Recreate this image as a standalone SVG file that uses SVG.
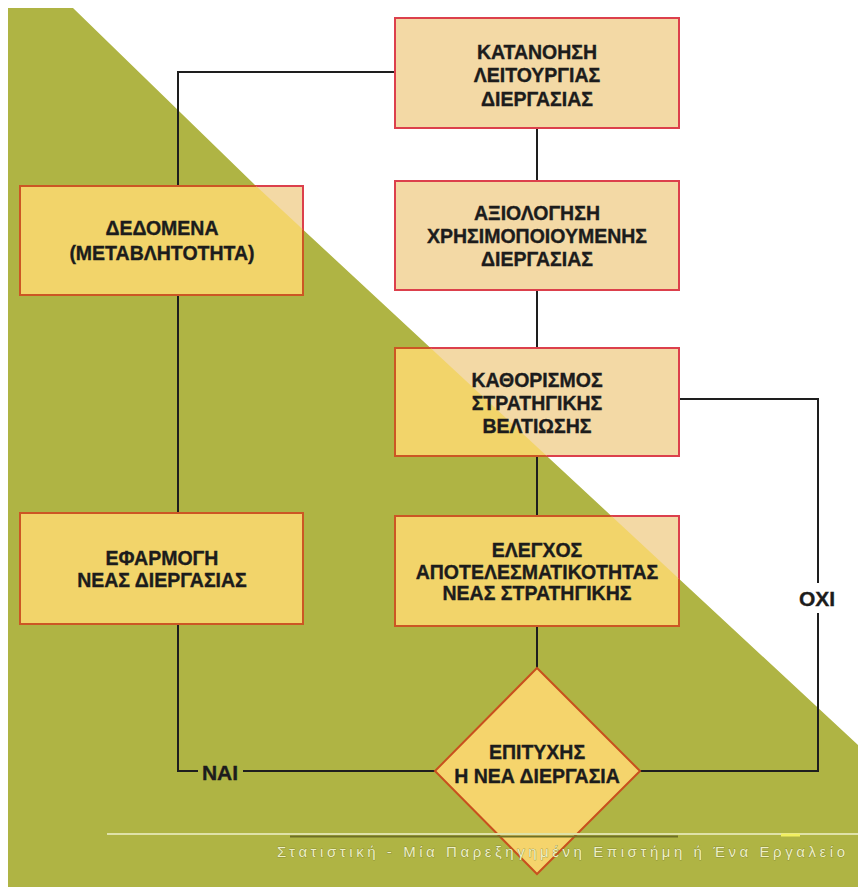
<svg xmlns="http://www.w3.org/2000/svg" width="858" height="887" viewBox="0 0 858 887">
<style>
.by{fill:#f2d46a;stroke:#cc5624;stroke-width:2}
.bw{fill:#f3d9a5;stroke:#dc404c;stroke-width:2}
.t{font-family:"Liberation Sans",Arial,sans-serif;font-weight:bold;font-size:19.5px;fill:#1c1c1c;stroke:#1c1c1c;stroke-width:0.35;text-anchor:middle}
.lb{font-family:"Liberation Sans",Arial,sans-serif;font-weight:bold;font-size:21px;fill:#1c1c1c;stroke:#1c1c1c;stroke-width:0.35;text-anchor:middle}
.c{fill:none;stroke:#1e1e1e;stroke-width:2}
.ft{font-family:"Liberation Sans",Arial,sans-serif;font-size:15px;fill:#eef0c4;stroke:#6a6c2a;stroke-width:0.5;paint-order:stroke}
</style>
<defs>
<clipPath id="wclip"><polygon points="73,0 73,8 255,185 858,745 858,0"/></clipPath>
</defs>
<rect x="0" y="0" width="858" height="887" fill="#ffffff"/>
<polygon points="8,8 73,8 255,185 858,745 858,887 8,887" fill="#afb444"/>
<g id="connectors">
<polyline class="c" points="395,72 178,72 178,186"/>
<line class="c" x1="178" y1="295" x2="178" y2="513"/>
<polyline class="c" points="178,624 178,771 198,771"/>
<line class="c" x1="243" y1="771" x2="435" y2="771"/>
<line class="c" x1="537" y1="128" x2="537" y2="181"/>
<line class="c" x1="537" y1="290" x2="537" y2="348"/>
<line class="c" x1="537" y1="456" x2="537" y2="516"/>
<line class="c" x1="537" y1="626" x2="537" y2="668"/>
<polyline class="c" points="679,399 818,399 818,583"/>
<polyline class="c" points="818,613 818,771 640,771"/>
<text class="lb" x="220" y="780">ΝΑΙ</text>
<text class="lb" x="817" y="606">ΟΧΙ</text>
</g>
<g id="n1">
<rect class="by" x="395" y="18" width="284" height="110"/>
<rect class="bw" x="395" y="18" width="284" height="110" clip-path="url(#wclip)"/>
<text class="t" x="537" y="59">ΚΑΤΑΝΟΗΣΗ</text>
<text class="t" x="537" y="82">ΛΕΙΤΟΥΡΓΙΑΣ</text>
<text class="t" x="537" y="106">ΔΙΕΡΓΑΣΙΑΣ</text>
</g>
<g id="n2">
<rect class="by" x="395" y="181" width="284" height="109"/>
<rect class="bw" x="395" y="181" width="284" height="109" clip-path="url(#wclip)"/>
<text class="t" x="537" y="220">ΑΞΙΟΛΟΓΗΣΗ</text>
<text class="t" x="537" y="243">ΧΡΗΣΙΜΟΠΟΙΟΥΜΕΝΗΣ</text>
<text class="t" x="537" y="266">ΔΙΕΡΓΑΣΙΑΣ</text>
</g>
<g id="n3">
<rect class="by" x="395" y="348" width="284" height="108"/>
<rect class="bw" x="395" y="348" width="284" height="108" clip-path="url(#wclip)"/>
<text class="t" x="537" y="387">ΚΑΘΟΡΙΣΜΟΣ</text>
<text class="t" x="537" y="410">ΣΤΡΑΤΗΓΙΚΗΣ</text>
<text class="t" x="537" y="433">ΒΕΛΤΙΩΣΗΣ</text>
</g>
<g id="n4">
<rect class="by" x="395" y="516" width="284" height="110"/>
<rect class="bw" x="395" y="516" width="284" height="110" clip-path="url(#wclip)"/>
<text class="t" x="537" y="557">ΕΛΕΓΧΟΣ</text>
<text class="t" x="537" y="579">ΑΠΟΤΕΛΕΣΜΑΤΙΚΟΤΗΤΑΣ</text>
<text class="t" x="537" y="600">ΝΕΑΣ ΣΤΡΑΤΗΓΙΚΗΣ</text>
</g>
<g id="n5">
<rect class="by" x="20" y="186" width="283" height="109"/>
<rect class="bw" x="20" y="186" width="283" height="109" clip-path="url(#wclip)"/>
<text class="t" x="162" y="235">ΔΕΔΟΜΕΝΑ</text>
<text class="t" x="162" y="260">(ΜΕΤΑΒΛΗΤΟΤΗΤΑ)</text>
</g>
<g id="n6">
<rect class="by" x="20" y="513" width="283" height="111"/>
<text class="t" x="162" y="565">ΕΦΑΡΜΟΓΗ</text>
<text class="t" x="162" y="587">ΝΕΑΣ ΔΙΕΡΓΑΣΙΑΣ</text>
</g>
<g id="n7">
<polygon points="537,668 640,771 537,874 435,771" fill="#f5d46c" stroke="#c8501e" stroke-width="2"/>
<text class="t" x="537" y="759">ΕΠΙΤΥΧΗΣ</text>
<text class="t" x="537" y="783">Η ΝΕΑ ΔΙΕΡΓΑΣΙΑ</text>
</g>
<g id="footer">
<line x1="107" y1="834" x2="858" y2="834" stroke="#dfe2a8" stroke-width="2"/>
<line x1="290" y1="836.5" x2="678" y2="836.5" stroke="#6f7025" stroke-width="2"/>
<line x1="781" y1="835" x2="800" y2="835" stroke="#f2f060" stroke-width="3"/>
<text class="ft" x="277" y="857" textLength="568" lengthAdjust="spacing">Στατιστική - Μία Παρεξηγημένη Επιστήμη ή Ένα Εργαλείο</text>
</g>
</svg>
